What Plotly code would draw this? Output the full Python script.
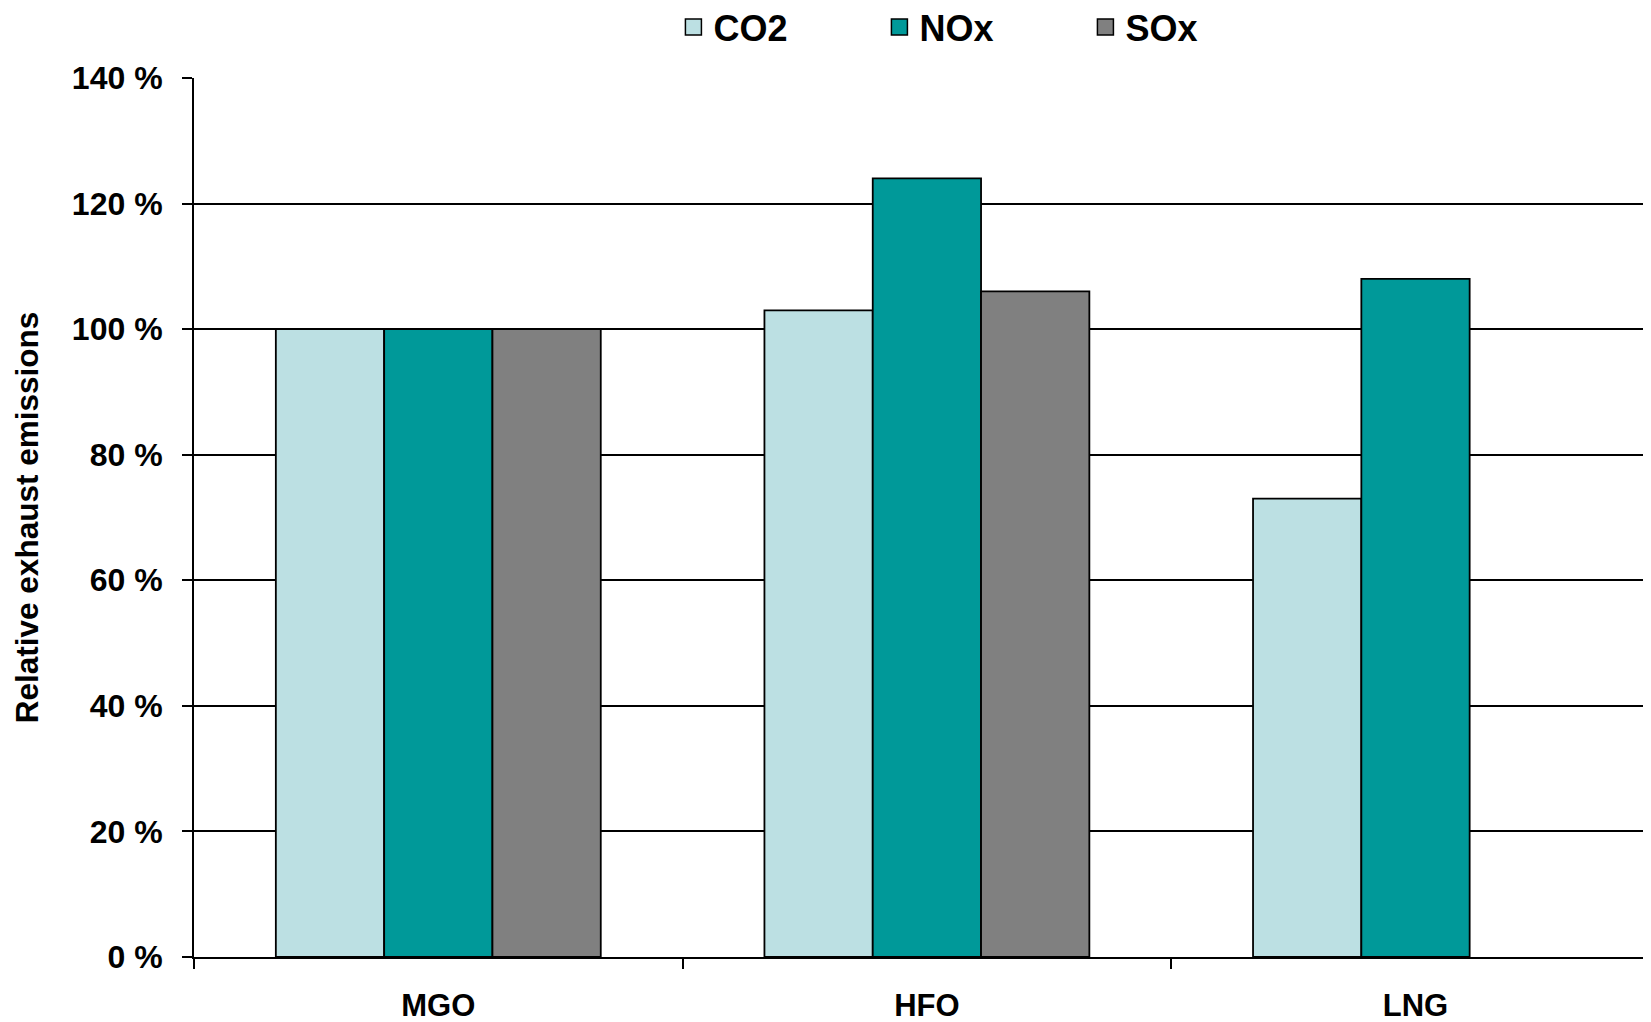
import plotly.graph_objects as go

categories = ["MGO", "HFO", "LNG"]
series_names = ["CO2", "NOx", "SOx"]
co2 = [100, 103, 73]
nox = [100, 124, 108]
sox = [100, 106, None]
colors = ["#BCE0E3", "#009999", "#808080"]
y_ticks = [0, 20, 40, 60, 80, 100, 120, 140]
y_tick_labels = [f"{v} %" for v in y_ticks]

FONT = "Liberation Sans, Arial, sans-serif"

# the page body adds an 8px offset; figure is sized so it ends at the window edge
W, H = 1643, 1014

fig = go.Figure()
for name, vals, col in zip(series_names, [co2, nox, sox], colors):
    fig.add_trace(go.Bar(
        x=categories, y=vals, name=name, showlegend=False,
        marker=dict(color=col, line=dict(color="black", width=1.8)),
    ))
# legend proxies (larger square symbols)
for name, col in zip(series_names, colors):
    fig.add_trace(go.Scatter(
        x=[None], y=[None], mode="markers", name=name,
        marker=dict(symbol="square", size=22, color=col,
                    line=dict(color="black", width=1.5)),
    ))

fig.update_layout(
    width=W, height=H,
    margin=dict(l=186, r=0, t=70, b=65, autoexpand=False),
    paper_bgcolor="white", plot_bgcolor="white",
    font=dict(family=FONT, size=32, color="black", weight="bold"),
    barmode="group", bargap=0.335, bargroupgap=0,
    showlegend=True,
    legend=dict(
        orientation="h", xref="container", yref="container",
        x=0.405, xanchor="left", y=1 - 19 / H, yanchor="middle",
        font=dict(size=36, family=FONT, weight="bold"),
        itemsizing="trace", entrywidth=161, entrywidthmode="pixels",
        bgcolor="rgba(0,0,0,0)",
    ),
    xaxis=dict(
        range=[-0.5, 2.482], type="category",
        showline=True, linecolor="black", linewidth=2,
        ticks="outside", tickson="boundaries", ticklen=10, tickwidth=2,
        tickcolor="black", showgrid=False, ticklabelstandoff=20,
        tickfont=dict(size=31),
    ),
    yaxis=dict(
        range=[0, 140], tickvals=y_ticks, ticktext=y_tick_labels,
        showline=True, linecolor="black", linewidth=2,
        ticks="outside", ticklen=10, tickwidth=2, tickcolor="black",
        showgrid=True, gridcolor="black", gridwidth=2,
        zeroline=False, ticklabelstandoff=13,
        tickfont=dict(size=32),
        title=dict(text="Relative exhaust emissions", font=dict(size=31.5), standoff=24),
    ),
)

fig.write_html("out.html")
